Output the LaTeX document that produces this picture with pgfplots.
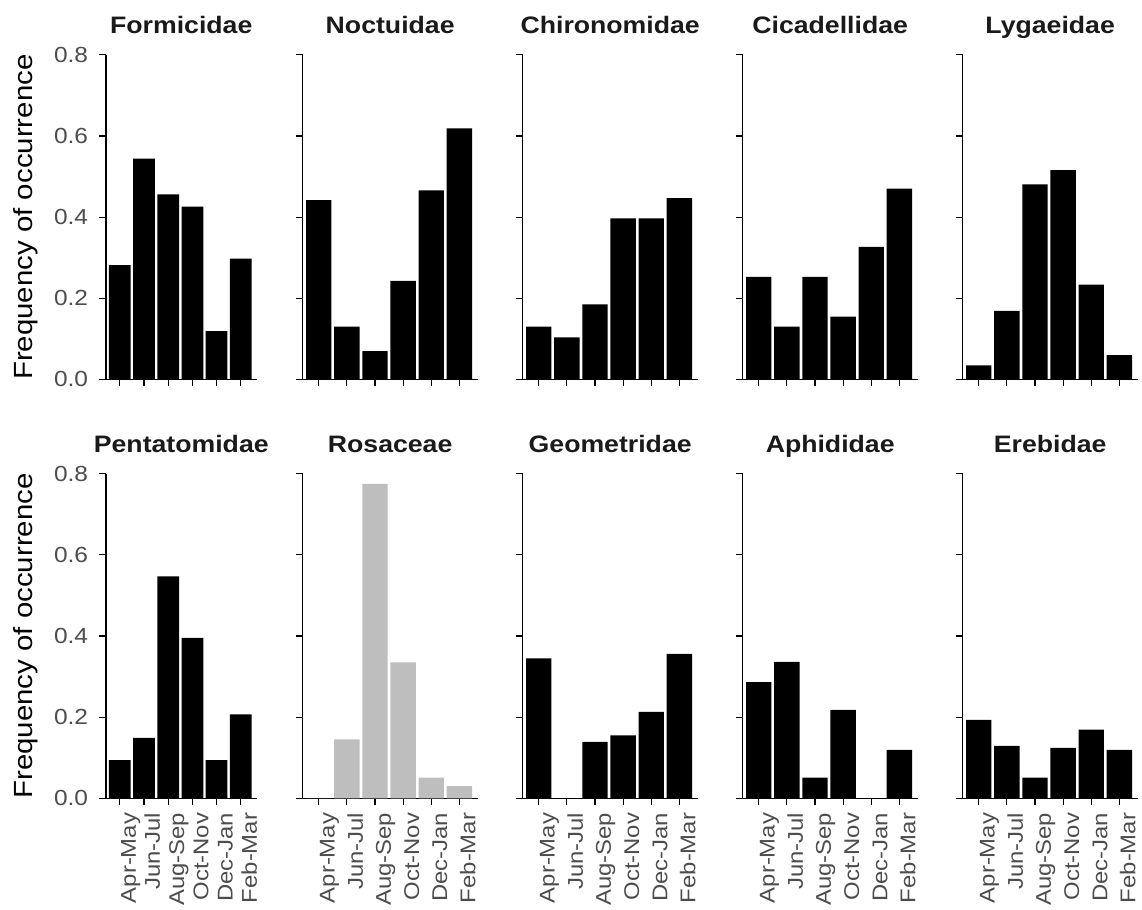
\documentclass[border=0pt]{standalone}
\usepackage{fontspec}
\setmainfont{Liberation Sans}[FakeStretch=1.12]
\usepackage{pgfplots}
\pgfplotsset{compat=1.18}
\definecolor{tickgrey}{RGB}{77,77,77}
\definecolor{titleblack}{RGB}{26,26,26}
\definecolor{rosagrey}{RGB}{190,190,190}
\pgfplotsset{
  panel/.style={
    scale only axis, width=131.25pt, height=243.5pt,
    xmin=-0.57, xmax=5.65, ymin=0, ymax=0.8,
    axis x line*=bottom, axis y line*=left,
    axis line style={line width=0.9pt, black},
    xtick={0,1,2,3,4,5}, ytick={0,0.2,0.4,0.6,0.8},
    tick align=outside, major tick length=5.25pt,
    every tick/.style={line width=0.9pt, black},
    anchor=south west,
    title style={font=\fontsize{17.85pt}{20pt}\selectfont\bfseries, text=titleblack, at={(0.5,1)}, anchor=base, yshift=10.1pt},
    xticklabels={}, yticklabels={},
    clip=false,
  },
  first/.style={
    width=112.9pt,
    yticklabels={0.0,0.2,0.4,0.6,0.8},
    yticklabel style={font=\fontsize{16.4pt}{18pt}\selectfont, text=tickgrey, anchor=east, inner sep=0pt, xshift=-8pt},
    ylabel={Frequency of occurrence},
    ylabel style={font=\fontsize{19.7pt}{22pt}\selectfont, text=black, at={(axis description cs:-0.491,0.5)}, anchor=base, rotate=0},
  },
  bottomrow/.style={
    xticklabels={Apr-May,Jun-Jul,Aug-Sep,Oct-Nov,Dec-Jan,Feb-Mar},
    xticklabel style={font=\fontsize{16pt}{18pt}\selectfont, text=tickgrey, xshift=12pt, yshift=-5.5pt, rotate=90, anchor=base east, inner sep=0pt},
  },
  blackbar/.style={ybar, bar width=0.9, fill=black, draw=none},
  greybar/.style={ybar, bar width=0.9, fill=rosagrey, draw=none},
}
\begin{document}
\begin{tikzpicture}
\useasboundingbox (0pt,0pt) rectangle (856.5pt,-682.5pt);
% ---------- top row ----------
\begin{axis}[panel, first, at={(79.5pt,-284.6pt)}, title={Formicidae}]
\addplot[blackbar] coordinates {(0,0.282) (1,0.544) (2,0.456) (3,0.426) (4,0.119) (5,0.298)};
\end{axis}
\begin{axis}[panel, at={(227.0pt,-284.6pt)}, title={Noctuidae}]
\addplot[blackbar] coordinates {(0,0.442) (1,0.130) (2,0.070) (3,0.243) (4,0.466) (5,0.619)};
\end{axis}
\begin{axis}[panel, at={(392.0pt,-284.6pt)}, title={Chironomidae}]
\addplot[blackbar] coordinates {(0,0.130) (1,0.104) (2,0.185) (3,0.397) (4,0.397) (5,0.447)};
\end{axis}
\begin{axis}[panel, at={(557.0pt,-284.6pt)}, title={Cicadellidae}]
\addplot[blackbar] coordinates {(0,0.253) (1,0.130) (2,0.253) (3,0.155) (4,0.327) (5,0.470)};
\end{axis}
\begin{axis}[panel, at={(722.0pt,-284.6pt)}, title={Lygaeidae}]
\addplot[blackbar] coordinates {(0,0.035) (1,0.169) (2,0.481) (3,0.516) (4,0.234) (5,0.060)};
\end{axis}
% ---------- bottom row ----------
\begin{axis}[panel, first, bottomrow, at={(79.5pt,-598.7pt)}, title={Pentatomidae}]
\addplot[blackbar] coordinates {(0,0.094) (1,0.149) (2,0.547) (3,0.395) (4,0.094) (5,0.207)};
\end{axis}
\begin{axis}[panel, bottomrow, at={(227.0pt,-598.7pt)}, title={Rosaceae}]
\addplot[greybar] coordinates {(0,0) (1,0.145) (2,0.775) (3,0.335) (4,0.051) (5,0.030)};
\end{axis}
\begin{axis}[panel, bottomrow, at={(392.0pt,-598.7pt)}, title={Geometridae}]
\addplot[blackbar] coordinates {(0,0.345) (1,0) (2,0.139) (3,0.155) (4,0.213) (5,0.356)};
\end{axis}
\begin{axis}[panel, bottomrow, at={(557.0pt,-598.7pt)}, title={Aphididae}]
\addplot[blackbar] coordinates {(0,0.286) (1,0.336) (2,0.051) (3,0.218) (4,0) (5,0.119)};
\end{axis}
\begin{axis}[panel, bottomrow, at={(722.0pt,-598.7pt)}, title={Erebidae}]
\addplot[blackbar] coordinates {(0,0.193) (1,0.129) (2,0.051) (3,0.124) (4,0.169) (5,0.119)};
\end{axis}
\end{tikzpicture}
\end{document}
